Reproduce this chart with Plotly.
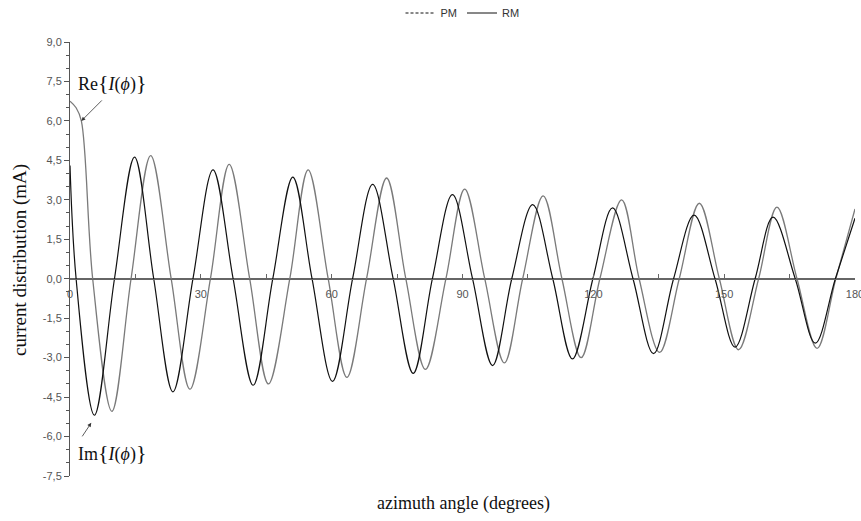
import plotly.graph_objects as go

# Im{I(phi)} curve (black) — read at extrema / zero crossings
im_deg = [0.0, 1.4, 5.6, 10.2, 14.8, 19.2, 23.6, 28.2, 32.8, 37.4, 42.0, 46.5, 51.1, 55.5,
          60.2, 64.8, 69.4, 74.1, 78.7, 83.1, 87.7, 92.3, 96.9, 101.3, 106.1, 110.7,
          115.2, 119.9, 124.4, 129.1, 133.8, 138.4, 143.1, 147.9, 152.5, 157.1, 161.2,
          166.3, 170.9, 175.5, 180.0]
im_val = [4.3, 0.0, -5.19, 0.0, 4.62, 0.0, -4.30, 0.0, 4.14, 0.0, -4.05, 0.0, 3.86, 0.0,
          -3.9, 0.0, 3.59, 0.0, -3.6, 0.0, 3.20, 0.0, -3.3, 0.0, 2.82, 0.0,
          -3.05, 0.0, 2.69, 0.0, -2.85, 0.0, 2.42, 0.0, -2.6, 0.0, 2.34,
          0.0, -2.45, 0.0, 2.3]

# Re{I(phi)} curve (grey)
re_deg = [0.0, 1.4, 2.6, 5.2, 9.6, 14.0, 18.5, 23.2, 27.5, 32.2, 36.5, 41.2, 45.5, 50.4, 54.6,
          59.2, 63.5, 68.0, 72.6, 77.0, 81.5, 86.2, 90.5, 95.1, 99.6, 103.8, 108.5,
          112.8, 117.2, 121.5, 126.5, 130.5, 135.2, 139.7, 144.3, 148.9, 153.3, 157.9,
          162.1, 166.7, 171.3, 175.6, 180.0]
re_val = [6.75, 6.5, 6.0, 0.0, -5.04, 0.0, 4.68, 0.0, -4.2, 0.0, 4.35, 0.0, -4.0, 0.0, 4.14,
          0.0, -3.75, 0.0, 3.83, 0.0, -3.45, 0.0, 3.41, 0.0, -3.2, 0.0, 3.15,
          0.0, -3.0, 0.0, 3.0, 0.0, -2.8, 0.0, 2.87, 0.0, -2.7, 0.0,
          2.72, 0.0, -2.65, 0.0, 2.65]

y_ticks = [-7.5, -6.0, -4.5, -3.0, -1.5, 0.0, 1.5, 3.0, 4.5, 6.0, 7.5, 9.0]
y_ticktext = ["-7,5", "-6,0", "-4,5", "-3,0", "-1,5", "0,0", "1,5", "3,0", "4,5", "6,0", "7,5", "9,0"]
x_ticks = [0, 30, 60, 90, 120, 150, 180]
x_ticktext = ["0", "30", "60", "90", "120", "150", "180"]

fig = go.Figure()
fig.add_trace(go.Scatter(x=re_deg, y=re_val, mode="lines", line=dict(color="#7a7a7a", width=1.3, shape="spline", smoothing=1.0),
                         showlegend=False, hoverinfo="skip"))
fig.add_trace(go.Scatter(x=im_deg, y=im_val, mode="lines", line=dict(color="#111111", width=1.2, shape="spline", smoothing=1.0),
                         showlegend=False, hoverinfo="skip"))
fig.add_trace(go.Scatter(x=[None], y=[None], mode="lines", name="PM", line=dict(color="#111", width=1, dash="3px,2px")))
fig.add_trace(go.Scatter(x=[None], y=[None], mode="lines", name="RM", line=dict(color="#111", width=1)))

ypos = 7.5 / 16.5
fig.update_layout(
    width=861, height=521,
    margin=dict(l=70, r=6, t=42, b=45, autoexpand=False),
    plot_bgcolor="white", paper_bgcolor="white",
    font=dict(family="Liberation Sans, Arial", size=11, color="#444"),
    showlegend=True,
    legend=dict(orientation="h", x=0.5, xanchor="center", y=(476 - 13) / 434, yanchor="middle",
                font=dict(family="Liberation Sans, Arial", size=11, color="#333"),
                bgcolor="rgba(0,0,0,0)", itemwidth=30, tracegroupgap=0),
    xaxis=dict(range=[0, 180], anchor="free", position=ypos, showline=True, linecolor="#666", linewidth=1,
               showgrid=False, zeroline=False, tickmode="array", tickvals=x_ticks, ticktext=x_ticktext,
               ticks="inside", ticklen=5, tickcolor="#666", ticklabeloverflow="allow", automargin=False,
               ticklabelstandoff=5,
               minor=dict(tickmode="array", tickvals=[15, 45, 75, 105, 135, 165], ticks="inside", ticklen=5, tickcolor="#666"),
               tickfont=dict(family="Liberation Sans, Arial", size=11, color="#555")),
    yaxis=dict(range=[-7.5, 9.0], showline=True, linecolor="#555", linewidth=1, showgrid=False,
               zeroline=True, zerolinecolor="#666", zerolinewidth=1, automargin=False,
               tickmode="array", tickvals=y_ticks, ticktext=y_ticktext,
               ticks="outside", ticklen=5, tickcolor="#555",
               minor=dict(dtick=0.5, tick0=0, ticks="outside", ticklen=3, tickcolor="#555"),
               tickfont=dict(family="Liberation Sans, Arial", size=11, color="#555")),
)

ann_font = dict(family="Liberation Serif, Times New Roman", size=18, color="#111")
fig.add_annotation(xref="paper", yref="paper", x=(20 - 70) / 785, y=(476 - 260) / 434,
                   xanchor="center", yanchor="middle",
                   text="current distribution (mA)", textangle=-90, showarrow=False,
                   font=dict(family="Liberation Serif, Times New Roman", size=19, color="#111"))
fig.add_annotation(xref="paper", yref="paper", x=(463 - 70) / 785, y=(476 - 503) / 434,
                   xanchor="center", yanchor="middle",
                   text="azimuth angle (degrees)", showarrow=False,
                   font=dict(family="Liberation Serif, Times New Roman", size=18, color="#111"))
# labels
brace = '<span style="font-size:22px">{</span>'
brace2 = '<span style="font-size:22px">}</span>'
fig.add_annotation(xref="paper", yref="paper", x=(112 - 70) / 785, y=(476 - 82) / 434,
                   xanchor="center", yanchor="middle",
                   text="Re" + brace + "<i>I</i>(<i>ϕ</i>)" + brace2, showarrow=False, font=ann_font)
fig.add_annotation(xref="paper", yref="paper", x=(112 - 70) / 785, y=(476 - 452) / 434,
                   xanchor="center", yanchor="middle",
                   text="Im" + brace + "<i>I</i>(<i>ϕ</i>)" + brace2, showarrow=False, font=ann_font)
# arrows
fig.add_annotation(x=2.6, y=6.0, text="", showarrow=True, ax=22, ay=-22, arrowhead=2, arrowsize=1,
                   arrowwidth=0.8, arrowcolor="#333")
fig.add_annotation(x=4.87, y=-5.48, text="", showarrow=True, ax=-10, ay=15, arrowhead=2, arrowsize=1,
                   arrowwidth=0.8, arrowcolor="#333")

fig.write_html("out.html")
